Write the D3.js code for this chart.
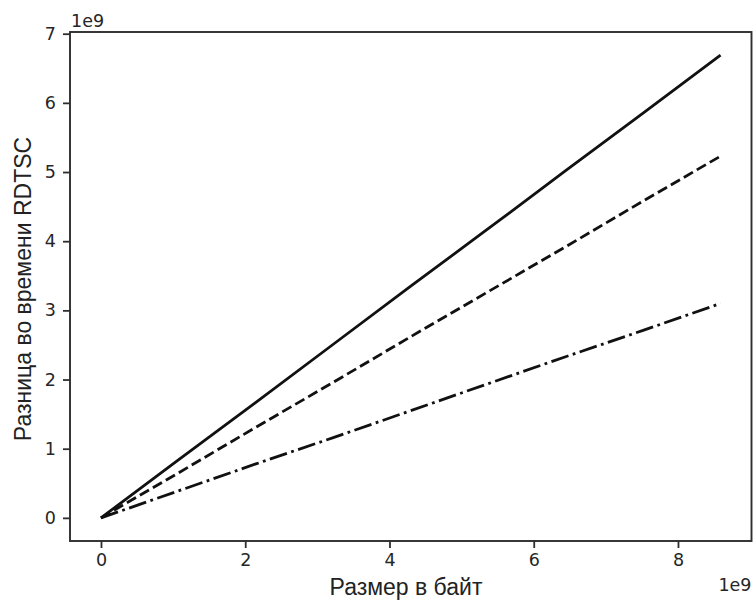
<!DOCTYPE html>
<html>
<head>
<meta charset="utf-8">
<script src="https://cdn.jsdelivr.net/npm/d3@7"></script>
<style>
  html, body { margin: 0; padding: 0; background: #fff; }
  svg { display: block; }
</style>
</head>
<body>
<svg id="chart" width="753" height="601"></svg>
<script>
// Buffer sizes in bytes (0 .. 8 GiB, one point per GiB)
const sizes = [0, 1073741824, 2147483648, 3221225472, 4294967296,
               5368709120, 6442450944, 7516192768, 8589934592];

// RDTSC tick differences for each run (units of 1e9 ticks)
const solidSeries   = [0, 0.84, 1.67, 2.51, 3.35, 4.18, 5.02, 5.85, 6.69];
const dashedSeries  = [0, 0.65, 1.31, 1.96, 2.62, 3.27, 3.92, 4.58, 5.23];
const dashdotSeries = [0, 0.39, 0.78, 1.16, 1.55, 1.94, 2.33, 2.71, 3.10];

const xTicks = [0, 2, 4, 6, 8];
const yTicks = [0, 1, 2, 3, 4, 5, 6, 7];

const xLabel = "Размер в байт";
const yLabel = "Разница во времени RDTSC";
const offsetText = "1e9";

const svg = d3.select("#chart");

const plot = { left: 70, right: 751.5, top: 32, bottom: 541 };

// Axis limits padded by 5% of the data span on each side
const xs = sizes.map(v => v / 1e9);
const allY = solidSeries.concat(dashedSeries, dashdotSeries);
const xMin = d3.min(xs), xMax = d3.max(xs);
const yMin = d3.min(allY), yMax = d3.max(allY);
const xPad = (xMax - xMin) * 0.05, yPad = (yMax - yMin) * 0.05;

const x = d3.scaleLinear().domain([xMin - xPad, xMax + xPad]).range([plot.left, plot.right]);
const y = d3.scaleLinear().domain([yMin - yPad, yMax + yPad]).range([plot.bottom, plot.top]);

const axisColor = "#2e2e2e";
const tickFont = "'DejaVu Sans', sans-serif";
const labelFont = "'Liberation Sans', Arial, sans-serif";

// Lines
const series = [
  { values: solidSeries,   dash: null },
  { values: dashedSeries,  dash: "10.5,4.5" },
  { values: dashdotSeries, dash: "18,4.5,2.8,4.5" }
];

const line = d3.line()
  .x((d, i) => x(xs[i]))
  .y(d => y(d));

svg.append("g").attr("class", "lines")
  .selectAll("path")
  .data(series)
  .join("path")
  .attr("d", d => line(d.values))
  .attr("fill", "none")
  .attr("stroke", "#111")
  .attr("stroke-width", 2.8)
  .attr("stroke-dasharray", d => d.dash);

// Axes
const xAxis = d3.axisBottom(x).tickValues(xTicks).tickFormat(d3.format("d"))
  .tickSize(7).tickPadding(6);
const yAxis = d3.axisLeft(y).tickValues(yTicks).tickFormat(d3.format("d"))
  .tickSize(7).tickPadding(7);

const gx = svg.append("g").attr("transform", `translate(0,${plot.bottom})`).call(xAxis);
const gy = svg.append("g").attr("transform", `translate(${plot.left},0)`).call(yAxis);

[gx, gy].forEach(g => {
  g.select(".domain").remove();
  g.selectAll(".tick line").attr("stroke", axisColor).attr("stroke-width", 1.8);
  g.selectAll(".tick text")
    .attr("fill", "#262626")
    .style("font-family", tickFont)
    .style("font-size", "17.5px");
});

// Frame
svg.append("rect")
  .attr("x", plot.left).attr("y", plot.top)
  .attr("width", plot.right - plot.left).attr("height", plot.bottom - plot.top)
  .attr("fill", "none").attr("stroke", axisColor).attr("stroke-width", 1.9);

// Scale offset labels
svg.append("text")
  .attr("x", plot.left + 1).attr("y", 27)
  .attr("fill", "#262626")
  .style("font-family", tickFont).style("font-size", "17.5px")
  .text(offsetText);

svg.append("text")
  .attr("x", plot.right).attr("y", 591)
  .attr("text-anchor", "end")
  .attr("fill", "#262626")
  .style("font-family", tickFont).style("font-size", "17.5px")
  .text(offsetText);

// Axis titles
svg.append("text")
  .attr("x", 406).attr("y", 595)
  .attr("text-anchor", "middle")
  .attr("fill", "#222")
  .style("font-family", labelFont).style("font-size", "23px")
  .text(xLabel);

svg.append("text")
  .attr("transform", `translate(31,289) rotate(-90)`)
  .attr("text-anchor", "middle")
  .attr("fill", "#222")
  .style("font-family", labelFont).style("font-size", "23px")
  .text(yLabel);
</script>
</body>
</html>
